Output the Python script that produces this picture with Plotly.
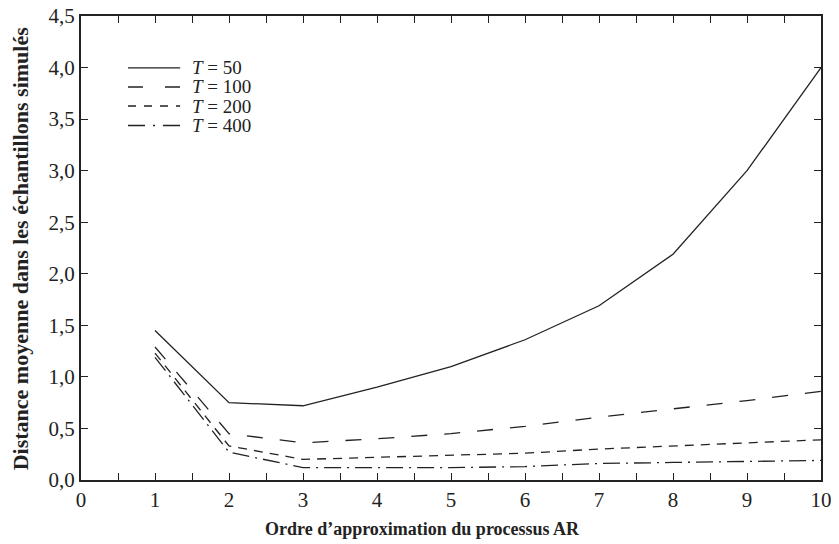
import plotly.graph_objects as go

orders = [1, 2, 3, 4, 5, 6, 7, 8, 9, 10]
t50 = [1.45, 0.75, 0.72, 0.90, 1.10, 1.36, 1.69, 2.19, 3.00, 4.00]
t100 = [1.29, 0.45, 0.36, 0.40, 0.45, 0.52, 0.61, 0.69, 0.77, 0.86]
t200 = [1.23, 0.33, 0.20, 0.22, 0.24, 0.26, 0.30, 0.33, 0.36, 0.39]
t400 = [1.19, 0.27, 0.12, 0.12, 0.12, 0.13, 0.16, 0.17, 0.18, 0.19]
names = ["<i>T</i> = 50", "<i>T</i> = 100", "<i>T</i> = 200", "<i>T</i> = 400"]
dashes = ["solid", "16px,17px", "9px,7px", "17px,6px,2px,6px"]
legend_dashes = ["solid", "15px,22px", "8px,8px", "17px,8px,2px,8px"]
xticks = list(range(0, 11))
yticks = [0, 0.5, 1, 1.5, 2, 2.5, 3, 3.5, 4, 4.5]
x_title = "<b>Ordre d’approximation du processus AR</b>"
y_title = "<b>Distance moyenne dans les échantillons simulés</b>"

font = "Liberation Serif"
ink = "#222"

fig = go.Figure()
for ys, nm, ds in zip([t50, t100, t200, t400], names, dashes):
    fig.add_trace(go.Scatter(x=orders, y=ys, mode="lines", name=nm, showlegend=False,
                             line=dict(color=ink, width=1.3, dash=ds)))

# manual legend (paper coordinates of the plot area)
leg_y = [0.888, 0.847, 0.806, 0.764]
for nm, ds, yy in zip(names, legend_dashes, leg_y):
    fig.add_shape(type="line", xref="paper", yref="paper", x0=0.0635, x1=0.134, y0=yy, y1=yy,
                  line=dict(color=ink, width=1.3, dash=ds))
    fig.add_annotation(xref="paper", yref="paper", x=0.147, y=yy, xanchor="left", yanchor="middle",
                       text=nm, showarrow=False, font=dict(family=font, size=19, color=ink))

# axis titles as annotations (positioned like the reference)
fig.add_annotation(xref="paper", yref="paper", x=0.462, y=-0.106, xanchor="center", yanchor="middle",
                   text=x_title, showarrow=False, font=dict(family=font, size=18, color=ink))
fig.add_annotation(xref="paper", yref="paper", x=-0.082, y=0.5, xanchor="center", yanchor="middle",
                   text=y_title, textangle=-90, showarrow=False, font=dict(family=font, size=22, color=ink))

fig.update_layout(
    width=831, height=536,
    margin=dict(l=73, r=18, t=8, b=64, autoexpand=False),
    plot_bgcolor="white", paper_bgcolor="white",
    font=dict(family=font, size=20, color=ink),
    showlegend=False,
)
fig.update_xaxes(range=[0, 10], tickvals=xticks, ticktext=[str(v) for v in xticks],
                 ticks="inside", ticklen=7, tickwidth=1.3, tickcolor=ink, automargin=False,
                 tickfont=dict(family=font, size=21),
                 showline=True, linewidth=2, linecolor=ink, mirror="ticks",
                 showgrid=False, zeroline=False,
                 minor=dict(dtick=0.5, tick0=0, ticks="inside", ticklen=7, tickwidth=1.3, tickcolor=ink))
fig.update_yaxes(range=[0, 4.5], tickvals=yticks, ticktext=[f"{v:.1f}".replace(".", ",") for v in yticks],
                 ticks="inside", ticklen=7, tickwidth=1.3, tickcolor=ink, automargin=False,
                 tickfont=dict(family=font, size=21), ticklabeloverflow="allow",
                 showline=True, linewidth=2, linecolor=ink, mirror="ticks",
                 showgrid=False, zeroline=False)
fig.write_html("out.html")
